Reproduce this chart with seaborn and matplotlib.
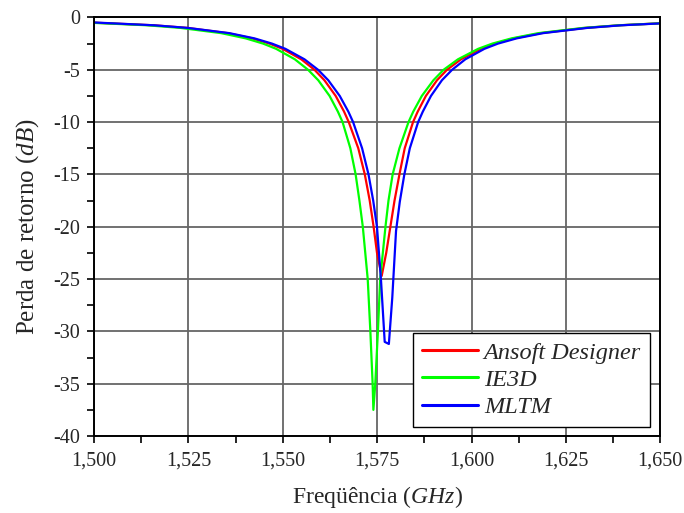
import matplotlib
matplotlib.use("Agg")
import matplotlib.pyplot as plt
from matplotlib.ticker import MultipleLocator, FuncFormatter
import seaborn as sns
import pandas as pd

# Return loss (dB) versus frequency (GHz) for the three simulators
freq_ansoft = [1.500, 1.5159, 1.5247, 1.5354, 1.5419, 1.5465, 1.54995, 1.5549, 1.5584,
               1.56103, 1.56402, 1.56624, 1.56748, 1.5700, 1.57173, 1.57303, 1.57406,
               1.57496, 1.5762, 1.5774, 1.5785, 1.5796, 1.5809, 1.5823, 1.5845, 1.58574,
               1.5879, 1.59085, 1.5935, 1.5972, 1.60245, 1.6062, 1.61125, 1.6184, 1.6301,
               1.6392, 1.650]
loss_ansoft = [-0.50, -0.75, -1.0, -1.5, -2.0, -2.5, -3.0, -4.0, -5.0,
               -6.0, -7.5, -9.0, -10.0, -12.5, -15.0, -17.5, -20.0,
               -22.5, -24.7, -22.5, -20.0, -17.5, -15.0, -12.5, -10.0, -9.0,
               -7.5, -6.0, -5.0, -4.0, -3.0, -2.5, -2.0, -1.5, -1.0,
               -0.75, -0.56]

freq_ie3d = [1.500, 1.5141, 1.5229, 1.5337, 1.5402, 1.5448, 1.54825, 1.5532, 1.5567,
             1.5594, 1.5624, 1.5646, 1.56584, 1.5679, 1.5693, 1.5703, 1.5712, 1.5725,
             1.5732, 1.5738, 1.5740, 1.5745, 1.5752, 1.5758, 1.5772, 1.5780, 1.5791,
             1.5809, 1.5833, 1.58456, 1.58683, 1.5899, 1.5926, 1.5964, 1.60175, 1.6055,
             1.6106, 1.6177, 1.6296, 1.6390, 1.650]
loss_ie3d = [-0.52, -0.75, -1.0, -1.5, -2.0, -2.5, -3.0, -4.0, -5.0,
             -6.0, -7.5, -9.0, -10.0, -12.5, -15.0, -17.5, -20.0, -25.0,
             -30.0, -35.0, -37.5, -35.0, -30.0, -25.0, -20.0, -17.5, -15.0,
             -12.5, -10.0, -9.0, -7.5, -6.0, -5.0, -4.0, -3.0, -2.5,
             -2.0, -1.5, -1.0, -0.75, -0.56]

freq_mltm = [1.500, 1.51595, 1.52485, 1.53585, 1.5425, 1.54715, 1.5507, 1.55575, 1.55935,
             1.56205, 1.56509, 1.56737, 1.56863, 1.57101, 1.57271, 1.57395, 1.57495,
             1.5760, 1.5770, 1.5781, 1.5790, 1.5800, 1.5810, 1.5822, 1.58365, 1.58585,
             1.58709, 1.58925, 1.59215, 1.59485, 1.59835, 1.6034, 1.6070, 1.61195,
             1.61895, 1.63065, 1.63965, 1.650]
loss_mltm = [-0.48, -0.75, -1.0, -1.5, -2.0, -2.5, -3.0, -4.0, -5.0,
             -6.0, -7.5, -9.0, -10.0, -12.5, -15.0, -17.5, -20.0,
             -25.0, -31.0, -31.2, -26.8, -20.4, -17.6, -15.0, -12.5, -10.0,
             -9.0, -7.5, -6.0, -5.0, -4.0, -3.0, -2.5, -2.0,
             -1.5, -1.0, -0.75, -0.57]

series_names = ["Ansoft Designer", "IE3D", "MLTM"]
series_colors = ["#ff0000", "#00ff00", "#0000ff"]

frames = []
for name, f, l in zip(series_names,
                      [freq_ansoft, freq_ie3d, freq_mltm],
                      [loss_ansoft, loss_ie3d, loss_mltm]):
    frames.append(pd.DataFrame({"freq": f, "loss": l, "Solver": name}))
data = pd.concat(frames, ignore_index=True)

sns.set_style("white")
plt.rcParams["font.family"] = ["Liberation Serif", "DejaVu Serif"]
plt.rcParams["axes.unicode_minus"] = False
plt.rcParams["mathtext.fontset"] = "custom"
plt.rcParams["mathtext.it"] = "Liberation Serif:italic"
plt.rcParams["mathtext.rm"] = "Liberation Serif"

fig = plt.figure(figsize=(6.84, 5.13), dpi=100)
ax = fig.add_axes([0.1374, 0.150, 0.828, 0.816])

sns.lineplot(data=data, x="freq", y="loss", hue="Solver", hue_order=series_names,
             palette=series_colors, sort=False, estimator=None, linewidth=1.6, ax=ax)

ax.set_xlim(1.500, 1.650)
ax.set_ylim(-40, 0)
ax.xaxis.set_major_locator(MultipleLocator(0.025))
ax.xaxis.set_minor_locator(MultipleLocator(0.0125))
ax.yaxis.set_major_locator(MultipleLocator(5))
ax.yaxis.set_minor_locator(MultipleLocator(2.5))
ax.xaxis.set_major_formatter(FuncFormatter(lambda v, p: f"{v:.3f}".replace(".", ",")))
ax.yaxis.set_major_formatter(FuncFormatter(lambda v, p: f"{v:.0f}"))

ax.grid(True, which="major", color="#666666", linewidth=1.3)
ax.set_axisbelow(True)
for side in ["left", "bottom", "top", "right"]:
    ax.spines[side].set_color("black")
    ax.spines[side].set_linewidth(1.4)
    ax.spines[side].set_visible(True)

ax.tick_params(axis="both", which="both", direction="out", length=5, width=1.2,
               color="black", bottom=True, left=True, top=False, right=False)
ax.tick_params(axis="y", which="major", labelsize=14.5, pad=5)
ax.tick_params(axis="x", which="major", labelsize=14.5, pad=6)

ax.set_xlabel(r"Freqüência ($GHz$)", fontsize=17, labelpad=10)
ax.set_ylabel(r"Perda de retorno ($dB$)", fontsize=18, labelpad=9)

leg = ax.legend(loc="lower right", bbox_to_anchor=(0.981, 0.022), frameon=True,
                fancybox=False, edgecolor="black", framealpha=1,
                prop={"family": "Liberation Serif", "style": "italic", "size": 17.5},
                handlelength=2.3, handletextpad=0.25, borderpad=0.35, labelspacing=0.22,
                borderaxespad=0.0)
leg.get_frame().set_linewidth(1.0)
for line in leg.get_lines():
    line.set_linewidth(2.2)

fig.savefig("out.png", dpi=100)
